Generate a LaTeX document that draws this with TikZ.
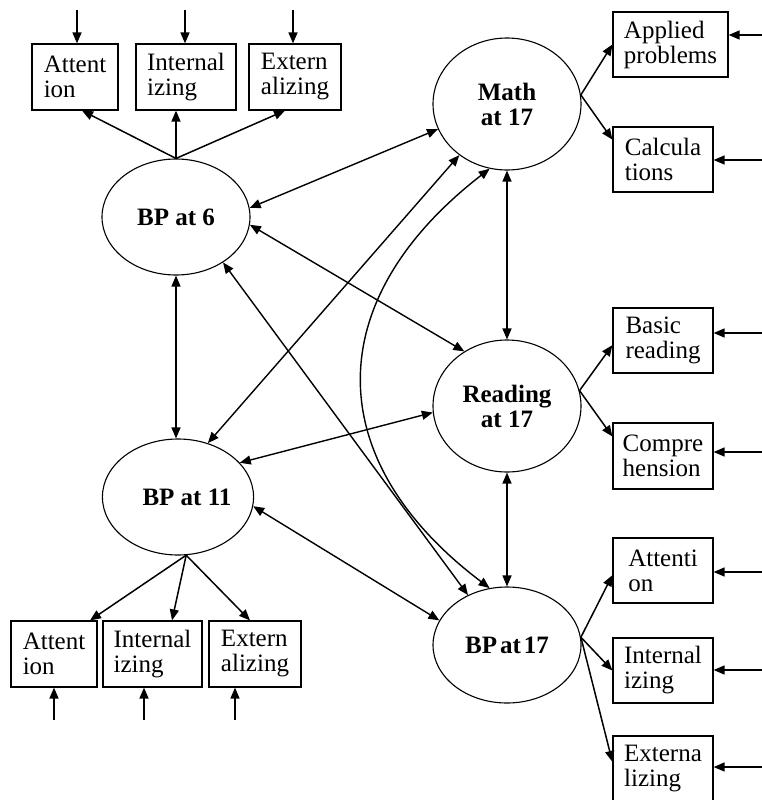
\documentclass[tikz,border=0pt]{standalone}
\usepackage{fontspec}
\setmainfont{Liberation Serif}
\usetikzlibrary{arrows.meta,shapes.geometric,calc}
\tikzset{
  lat/.style={draw, ellipse, line width=1.1pt, minimum width=148pt, inner sep=0pt,
    align=center, font=\fontsize{25}{25}\selectfont\bfseries},
  obs/.style={draw, rectangle, line width=1.2pt, minimum height=65pt, inner sep=0pt,
    align=left, font=\fontsize{25}{25}\selectfont},
  tip/.tip={Triangle[length=11pt,width=9pt]},
  arr/.style={-tip, line width=1.5pt},
  darr/.style={tip-tip, line width=1.4pt}
}
\begin{document}
\begin{tikzpicture}[x=1pt,y=-1pt]
\useasboundingbox (0,0) rectangle (762,800);
% latent variables
\node[lat, minimum height=116pt] (bp6)  at (176,217) {BP at 6};
\node[lat, minimum height=116pt] (bp11) at (178,497) {\hspace*{18pt}BP at 11};
\node[lat, minimum height=132pt] (math) at (507,104) {Math\\at 17};
\node[lat, minimum height=132pt] (read) at (507,406) {Reading\\at 17};
\node[lat, minimum height=116pt] (bp17) at (507,645) {BP\hspace{3pt}at\hspace{3pt}17};
% indicators BP6
\node[obs, minimum width=86pt, minimum height=66pt]  (a6) at (75,77)  {Attent\\ion};
\node[obs, minimum width=100pt, minimum height=66pt] (i6) at (186,77) {Internal\\izing};
\node[obs, minimum width=92pt, minimum height=66pt]  (e6) at (295,77) {Extern\\alizing};
% indicators BP11
\node[obs, minimum width=86pt, minimum height=66pt]  (a11) at (54,654)    {Attent\\ion};
\node[obs, minimum width=99pt, minimum height=66pt]  (i11) at (152.5,654) {Internal\\izing};
\node[obs, minimum width=92pt, minimum height=66pt]  (e11) at (255,654)   {Extern\\alizing};
% indicators right
\node[obs, minimum width=115pt] (ap)  at (670.5,44.5)  {Applied\\problems};
\node[obs, minimum width=100pt] (ca)  at (663,159.5)   {Calcula\\tions};
\node[obs, minimum width=100pt] (br)  at (663,340.5)   {Basic\\reading};
\node[obs, minimum width=100pt, minimum height=66pt] (co) at (663,456) {Compre\\hension};
\node[obs, minimum width=100pt] (a17) at (663,570.5)   {Attenti\\on};
\node[obs, minimum width=100pt] (i17) at (663,670.5)   {Internal\\izing};
\node[obs, minimum width=100pt] (e17) at (663,768.5)   {Externa\\lizing};
% free ends of error arrows
\coordinate (ta6) at (77,10);
\coordinate (ti6) at (185,10);
\coordinate (te6) at (293,10);
\coordinate (ba11) at (54,720);
\coordinate (bi11) at (144,720);
\coordinate (be11) at (235,720);
\coordinate (rap) at (762,35);
\coordinate (rca) at (762,160);
\coordinate (rbr) at (762,333);
\coordinate (rco) at (762,452);
\coordinate (ra17) at (762,572);
\coordinate (ri17) at (762,670);
\coordinate (re17) at (762,767);
% error arrows
\draw[arr] (ta6) -- (ta6 |- a6.north);
\draw[arr] (ti6) -- (ti6 |- i6.north);
\draw[arr] (te6) -- (te6 |- e6.north);
\draw[arr] (ba11) -- (ba11 |- a11.south);
\draw[arr] (bi11) -- (bi11 |- i11.south);
\draw[arr] (be11) -- (be11 |- e11.south);
\draw[arr] (rap) -- (rap -| ap.east);
\draw[arr] (rca) -- (rca -| ca.east);
\draw[arr] (rbr) -- (rbr -| br.east);
\draw[arr] (rco) -- (rco -| co.east);
\draw[arr] (ra17) -- (ra17 -| a17.east);
\draw[arr] (ri17) -- (ri17 -| i17.east);
\draw[arr] (re17) -- (re17 -| e17.east);
% loadings
\draw[arr] (bp6.north) -- ([xshift=7pt]a6.south);
\draw[arr] (bp6.north) -- ([xshift=-10pt]i6.south);
\draw[arr] (bp6.north) -- ([xshift=-10pt]e6.south);
\draw[arr] (bp11.-82) -- ([xshift=36pt]a11.north);
\draw[arr] (bp11.-82) -- ([xshift=19.5pt]i11.north);
\draw[arr] (bp11.-82) -- ([xshift=-5pt]e11.north);
\draw[arr] (math.7) -- (ap.west);
\draw[arr] (math.7) -- ($(ca.north west)!0.2!(ca.south west)$);
\draw[arr] (read.12) -- ($(br.north west)!0.57!(br.south west)$);
\draw[arr] (read.12) -- ($(co.north west)!0.21!(co.south west)$);
\draw[arr] (bp17.6) -- ($(a17.north west)!0.57!(a17.south west)$);
\draw[arr] (bp17.6) -- (i17.west);
\draw[arr] (bp17.6) -- ($(e17.north west)!0.4!(e17.south west)$);
% structural paths
\draw[darr] (bp6.south) -- (bp6.south |- bp11.north);
\draw[darr] (math.200) -- (bp6.7);
\draw[darr] (bp6.-6) -- (read.128);
\draw[darr] (bp6.-44) -- (bp17.128);
\draw[darr] (math.227) -- (bp11.61);
\draw[darr] (math.255) .. controls (320,300) and (320,460) .. (bp17.107);
\draw[darr] (math.south) -- (read.north);
\draw[darr] (bp11.29) -- (read.185);
\draw[darr] (bp11.-7) -- (bp17.160);
\draw[darr] (read.south) -- (bp17.north);
\end{tikzpicture}
\end{document}
